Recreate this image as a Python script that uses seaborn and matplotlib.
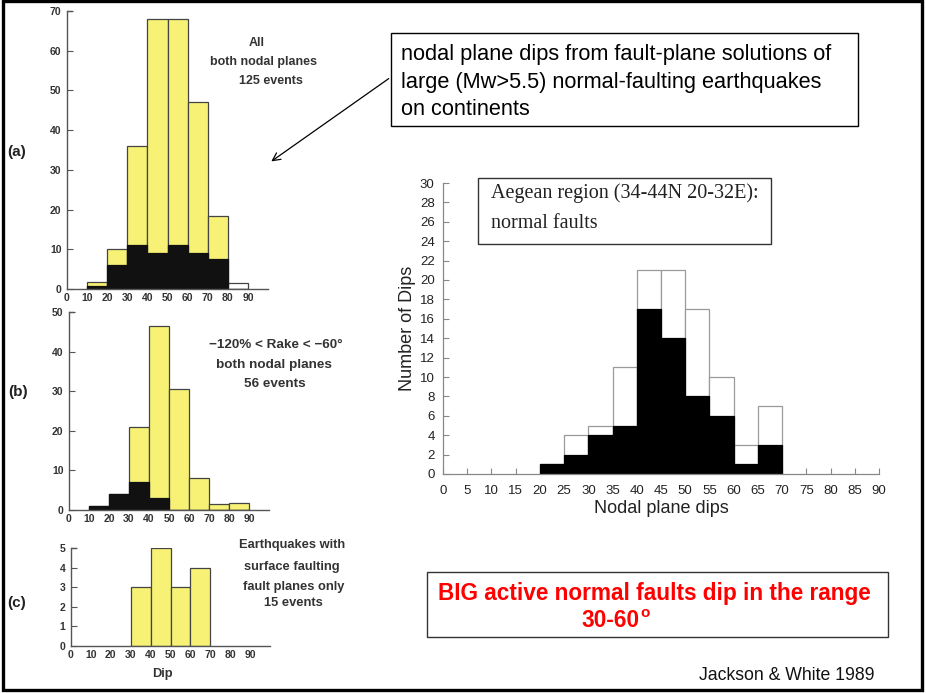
import matplotlib
matplotlib.use("Agg")
import matplotlib.pyplot as plt
import seaborn as sns
import numpy as np
from matplotlib.patches import Rectangle, FancyArrowPatch

# ---------------- data ----------------
# Left panels (Jackson & White 1989), 10-degree bins
a_edges = [10, 20, 30, 40, 50, 60, 70, 80, 90]
a_total = [1.7, 10, 36, 68, 68, 47, 18.5, 1.5]
a_black = [0.7, 6, 11, 9, 11, 9, 7.5, 0]

b_edges = [10, 20, 30, 40, 50, 60, 70, 80, 90]
b_total = [1, 4, 21, 46.5, 30.5, 8, 1.5, 1.7]
b_black = [1, 4, 7, 3, 0, 0, 0, 0]

c_edges = [30, 40, 50, 60, 70]
c_total = [3, 5, 3, 4]

# Right panel (Aegean), 5-degree bins
r_edges = [20, 25, 30, 35, 40, 45, 50, 55, 60, 65, 70]
r_total = [1, 4, 5, 11, 21, 21, 17, 10, 3, 7]
r_black = [1, 2, 4, 5, 17, 14, 8, 6, 1, 3]

left_xticks = [0, 10, 20, 30, 40, 50, 60, 70, 80, 90]
right_xticks = list(range(0, 95, 5))
right_yticks = list(range(0, 32, 2))

YELLOW = "#f7f276"

sns.set_style("white")
plt.rcParams["font.family"] = ["Liberation Sans", "DejaVu Sans"]

W, H = 926, 693
fig = plt.figure(figsize=(W / 100, H / 100), dpi=100)


def rect(l, t, r, b):
    return [l / W, 1 - b / H, (r - l) / W, (b - t) / H]


def ftext(x, y, s, **kw):
    return fig.text(x / W, 1 - y / H, s, transform=fig.transFigure, **kw)


def centers(edges):
    e = np.asarray(edges, dtype=float)
    return (e[:-1] + e[1:]) / 2


def hist(ax, edges, weights, color, ec, lw=0.9):
    sns.histplot(x=centers(edges), weights=weights, bins=edges, ax=ax,
                 color=color, edgecolor=ec, linewidth=lw, alpha=1)


def style_left(ax, ymax, ystep):
    ax.set_xlim(0, 100)
    ax.set_ylim(0, ymax)
    for s in ["top", "right"]:
        ax.spines[s].set_visible(False)
    for s in ["left", "bottom"]:
        ax.spines[s].set_color("#555")
        ax.spines[s].set_linewidth(1.0)
    ax.set_xticks(left_xticks)
    ax.set_yticks(np.arange(0, ymax + 0.01, ystep))
    ax.tick_params(axis="x", length=0, pad=3, labelsize=7.5, labelcolor="#333")
    ax.tick_params(axis="y", direction="in", length=4, width=0.8, color="#555",
                   pad=4, labelsize=7.5, labelcolor="#333", left=True)
    for lab in ax.get_xticklabels() + ax.get_yticklabels():
        lab.set_fontweight("bold")
    ax.axhline(ymax, xmin=0, xmax=0.025, color="#555", lw=1.0, clip_on=False)
    ax.set_xlabel("")
    ax.set_ylabel("")
    ax.patch.set_alpha(0)


# ---- panel (a)
ax_a = fig.add_axes(rect(67, 11, 268, 289))
hist(ax_a, a_edges, a_total, YELLOW, "#444")
ax_a.patches[-1].set_facecolor("white")
hist(ax_a, a_edges, a_black, "#111111", "#111111")
style_left(ax_a, 70, 10)

# ---- panel (b)
ax_b = fig.add_axes(rect(69, 312, 269, 510))
hist(ax_b, b_edges, b_total, YELLOW, "#444")
hist(ax_b, b_edges, b_black, "#111111", "#111111")
style_left(ax_b, 50, 10)

# ---- panel (c)
ax_c = fig.add_axes(rect(71, 548, 270, 646))
hist(ax_c, c_edges, c_total, YELLOW, "#444")
style_left(ax_c, 5, 1)

# left annotations
lk = dict(ha="center", va="center", fontsize=9, fontweight="bold", color="#333")
ftext(257, 43, "All", **lk)
ftext(264, 62, "both nodal planes", **lk)
ftext(271, 81, "125 events", **lk)
lk9 = dict(lk, fontsize=9.7)
ftext(276, 345, "\u2212120% < Rake < \u221260\u00b0", **lk9)
ftext(274, 365, "both nodal planes", **lk9)
ftext(275, 384, "56 events", **lk9)
lkc = dict(lk, fontsize=9.3)
ftext(292, 545, "Earthquakes with", **lkc)
ftext(292, 567, "surface faulting", **lkc)
ftext(294, 587, "fault planes only", **lkc)
ftext(293, 603, "15 events", **lkc)
ftext(162, 674, "Dip", **lkc)
pk = dict(ha="center", va="center", fontsize=11, fontweight="bold", color="#222")
ftext(17, 152, "(a)", **pk)
ftext(18, 392, "(b)", **pk)
ftext(17, 603, "(c)", **pk)

# ---- right panel
ax_r = fig.add_axes(rect(443, 183, 879, 474))
hist(ax_r, r_edges, r_total, "white", "#9a9a9a", lw=0.9)
hist(ax_r, r_edges, r_black, "black", "black", lw=0.9)
ax_r.set_xlim(0, 90)
ax_r.set_ylim(0, 30)
for s in ["top", "right"]:
    ax_r.spines[s].set_visible(False)
for s in ["left", "bottom"]:
    ax_r.spines[s].set_color("#888")
    ax_r.spines[s].set_linewidth(0.9)
ax_r.set_xticks(right_xticks)
ax_r.set_yticks(right_yticks)
ax_r.tick_params(axis="both", direction="in", length=4, width=0.8, color="#888",
                 labelsize=9.5, labelcolor="#222", left=True, bottom=True)
ax_r.tick_params(axis="x", pad=8)
ax_r.tick_params(axis="y", pad=6)
ax_r.set_xlabel("Nodal plane dips", fontsize=13, color="#222", labelpad=2)
ax_r.set_ylabel("Number of Dips", fontsize=13, color="#222", labelpad=3)
ax_r.patch.set_alpha(0)

# Aegean box
fig.add_artist(Rectangle((478 / W, 1 - 244 / H), (771 - 478) / W, (244 - 178) / H,
                         transform=fig.transFigure, fill=False, ec="#333", lw=1.0))
sk = dict(ha="left", va="baseline", fontsize=14.5, family=["Liberation Serif", "DejaVu Serif"],
          color="#222")
ftext(491, 198, "Aegean region (34-44N 20-32E):", **sk)
ftext(491, 228, "normal faults", **sk)

# top box
fig.add_artist(Rectangle((391 / W, 1 - 126 / H), (858 - 391) / W, (126 - 33) / H,
                         transform=fig.transFigure, fill=False, ec="black", lw=1.0))
tk = dict(ha="left", va="baseline", fontsize=15.7, color="black")
ftext(401, 60, "nodal plane dips from fault-plane solutions of", **tk)
ftext(401, 88, "large (Mw>5.5) normal-faulting earthquakes", **tk)
ftext(401, 115, "on continents", **tk)

# arrow
fig.add_artist(FancyArrowPatch((391 / W, 1 - 77 / H), (269 / W, 1 - 163 / H),
                               transform=fig.transFigure, arrowstyle="->",
                               mutation_scale=14, lw=0.9, color="black"))

# red box
fig.add_artist(Rectangle((427 / W, 1 - 637 / H), (888 - 427) / W, (637 - 572) / H,
                         transform=fig.transFigure, fill=False, ec="#333", lw=1.0))
rk = dict(va="baseline", fontsize=16.3, fontweight="bold", color="#ff0000")
ftext(438, 600, "BIG active normal faults dip in the range", ha="left", **rk)
ftext(639, 627, "30-60", ha="right", **rk)
ftext(640, 617, "o", ha="left", va="baseline", fontsize=11, fontweight="bold",
      color="#ff0000")

ftext(699, 680, "Jackson & White 1989", ha="left", va="baseline", fontsize=12.7,
      color="#111")

# outer frame
fig.add_artist(Rectangle((2.5 / W, 1 - 690 / H), (922 - 2.5) / W, (690 - 1) / H,
                         transform=fig.transFigure, fill=False, ec="black", lw=2.4))

fig.savefig("out.png", dpi=100)
